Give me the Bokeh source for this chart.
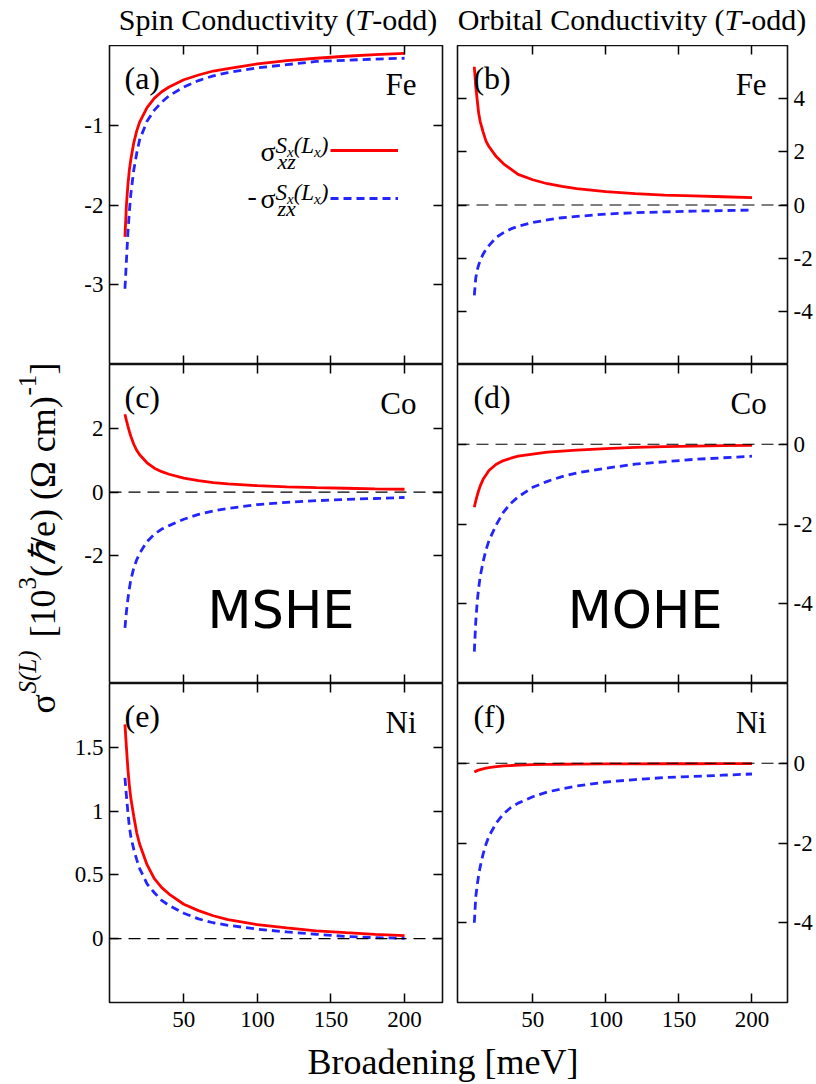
import math
from bokeh.plotting import figure
from bokeh.models import (Range1d, LinearAxis, FixedTicker, CustomJSTickFormatter,
                          Span, Label, Legend, LegendItem)
from bokeh.layouts import row, column
from bokeh.embed import file_html
from bokeh.resources import INLINE

# ---------------- data ----------------
broadening_meV = [10, 11, 12, 13, 14, 16, 18, 20, 25, 30, 35, 40, 50, 60, 70, 80,
                  100, 120, 140, 160, 180, 200]

fe_spin_xz = [-2.40, -2.00, -1.75, -1.56, -1.43, -1.22, -1.07, -0.96, -0.78, -0.66, -0.58,
              -0.52, -0.43, -0.37, -0.32, -0.29, -0.23, -0.19, -0.16, -0.135, -0.115, -0.10]
fe_spin_zx = [-3.05, -2.70, -2.35, -2.08, -1.86, -1.56, -1.35, -1.18, -0.95, -0.81, -0.71,
              -0.63, -0.52, -0.44, -0.38, -0.34, -0.28, -0.24, -0.20, -0.185, -0.17, -0.16]
fe_orb_xz = [5.20, 4.45, 3.95, 3.45, 3.15, 2.75, 2.40, 2.20, 1.82, 1.55, 1.35,
             1.15, 0.95, 0.80, 0.70, 0.62, 0.50, 0.43, 0.37, 0.34, 0.31, 0.28]
fe_orb_zx = [-3.40, -2.75, -2.45, -2.25, -2.10, -1.85, -1.67, -1.53, -1.22, -1.04, -0.90,
             -0.80, -0.66, -0.56, -0.48, -0.43, -0.34, -0.29, -0.26, -0.23, -0.21, -0.19]
co_spin_xz = [2.44, 2.25, 2.07, 1.90, 1.75, 1.50, 1.31, 1.17, 0.92, 0.75, 0.64,
              0.56, 0.44, 0.36, 0.30, 0.26, 0.20, 0.165, 0.14, 0.12, 0.10, 0.09]
co_spin_zx = [-4.26, -3.75, -3.35, -3.02, -2.75, -2.38, -2.12, -1.92, -1.55, -1.32, -1.16,
              -1.05, -0.85, -0.70, -0.59, -0.51, -0.39, -0.32, -0.27, -0.23, -0.20, -0.17]
co_orb_xz = [-1.58, -1.42, -1.28, -1.16, -1.05, -0.88, -0.77, -0.66, -0.50, -0.41, -0.35,
             -0.30, -0.25, -0.20, -0.17, -0.145, -0.11, -0.08, -0.06, -0.045, -0.035, -0.03]
co_orb_zx = [-5.20, -4.45, -3.95, -3.60, -3.32, -2.95, -2.65, -2.42, -2.02, -1.70, -1.48,
             -1.32, -1.08, -0.93, -0.81, -0.72, -0.60, -0.50, -0.44, -0.38, -0.34, -0.30]
ni_spin_xz = [1.68, 1.50, 1.33, 1.20, 1.10, 0.96, 0.83, 0.74, 0.58, 0.47, 0.40,
              0.35, 0.27, 0.22, 0.18, 0.15, 0.11, 0.085, 0.062, 0.047, 0.034, 0.024]
ni_spin_zx = [1.26, 1.12, 0.99, 0.88, 0.80, 0.70, 0.62, 0.55, 0.43, 0.36, 0.30,
              0.26, 0.20, 0.155, 0.125, 0.105, 0.075, 0.053, 0.035, 0.018, 0.008, 0.003]
ni_orb_xz = [-0.22, -0.20, -0.185, -0.17, -0.16, -0.14, -0.125, -0.11, -0.085, -0.068, -0.057,
             -0.048, -0.036, -0.030, -0.025, -0.022, -0.018, -0.015, -0.013, -0.012, -0.011, -0.010]
ni_orb_zx = [-4.00, -3.35, -3.05, -2.80, -2.60, -2.28, -2.03, -1.83, -1.50, -1.27, -1.11,
             -1.00, -0.84, -0.72, -0.64, -0.57, -0.47, -0.41, -0.36, -0.33, -0.30, -0.27]

x_ticks = [50, 100, 150, 200]
panel_tags = ["(a)", "(b)", "(c)", "(d)", "(e)", "(f)"]
elements = ["Fe", "Fe", "Co", "Co", "Ni", "Ni"]
effect_names = ["MSHE", "MOHE"]
title_pre = ["Spin Conductivity (", "Orbital Conductivity ("]
title_T = "T"
title_post = "-odd)"
x_label = "Broadening [meV]"

y_ranges = [(-4, 0), (-6, 6), (-6, 4), (-6, 2), (-0.5, 2), (-6, 2)]
y_ticks = [[-3, -2, -1], [-4, -2, 0, 2, 4], [-2, 0, 2], [-4, -2, 0], [0, 0.5, 1, 1.5], [-4, -2, 0]]
red_series = [fe_spin_xz, fe_orb_xz, co_spin_xz, co_orb_xz, ni_spin_xz, ni_orb_xz]
blue_series = [fe_spin_zx, fe_orb_zx, co_spin_zx, co_orb_zx, ni_spin_zx, ni_orb_zx]
zero_line = [False, True, True, True, True, True]

# ---------------- layout / style ----------------
SERIF = "Liberation Serif"
RED = "#ff0000"
BLUE = "#2424ff"
TOP_H = 45
YLAB_W = 64
FRAME_H = 319
COLS = [dict(bl=45, fw=333, br=7), dict(bl=8, fw=332, br=26)]
ROWS = [dict(bb=0), dict(bb=0), dict(bb=38)]
X_RANGES = [(-0.5, 225.8), (-1.5, 224.3)]
XLAB_H = 44
BASE_SHIFT = 0.34   # text anchor correction (em)

col_w = [c["bl"] + c["fw"] + c["br"] for c in COLS]
row_h = [FRAME_H + r["bb"] for r in ROWS]
TOTAL_W = YLAB_W + sum(col_w)
GRID_H = sum(row_h)


def frame_box(c, r):
    left = YLAB_W + (0 if c == 0 else col_w[0]) + COLS[c]["bl"]
    top = TOP_H + sum(row_h[:r])
    return left, top, left + COLS[c]["fw"], top + FRAME_H


def to_data(geom, px, py):
    fl, ft, fr, fb, x0, x1, y0, y1 = geom
    x = x0 + (px - fl) / (fr - fl) * (x1 - x0)
    y = y1 - (py - ft) / (fb - ft) * (y1 - y0)
    return x, y


def add_text(p, geom, px, py, text, size, style="normal", align="left",
             font=SERIF, vertical=False):
    if vertical:
        px = px - BASE_SHIFT * size
    else:
        py = py - BASE_SHIFT * size
    x, y = to_data(geom, px, py)
    p.add_layout(Label(x=x, y=y, text=text, text_font=font,
                       text_font_size=f"{size}px", text_font_style=style,
                       text_align=align, text_baseline="alphabetic",
                       text_color="black", angle=(math.pi / 2 if vertical else 0.0)))


def style_axis(ax, show, standoff):
    ax.axis_line_color = None
    ax.major_tick_in = 9
    ax.major_tick_out = 0
    ax.major_tick_line_width = 1.5
    ax.major_tick_line_color = "black"
    ax.minor_tick_line_color = None
    if show:
        ax.formatter = CustomJSTickFormatter(code="return String(tick)")
        ax.major_label_text_font = SERIF
        ax.major_label_text_font_size = "23px"
        ax.major_label_text_color = "black"
        ax.major_label_standoff = standoff
    else:
        ax.major_label_text_font_size = "0px"
        ax.major_label_text_color = None
        ax.major_label_standoff = 0


panels = []
for i in range(6):
    c, r = i % 2, i // 2
    cg, rg = COLS[c], ROWS[r]
    fl, ft, fr, fb = frame_box(c, r)
    geom = (fl, ft, fr, fb, X_RANGES[c][0], X_RANGES[c][1], y_ranges[i][0], y_ranges[i][1])
    p = figure(width=col_w[c], height=row_h[r],
               x_range=Range1d(*X_RANGES[c]), y_range=Range1d(*y_ranges[i]),
               x_axis_location=None, y_axis_location=None,
               toolbar_location=None, output_backend="svg",
               min_border_left=cg["bl"], min_border_right=cg["br"],
               min_border_top=0, min_border_bottom=rg["bb"],
               background_fill_color="white", border_fill_color="white",
               outline_line_color="#111111", outline_line_width=1.6)
    p.grid.visible = False
    for side in ("below", "above"):
        ax = LinearAxis(ticker=FixedTicker(ticks=x_ticks))
        style_axis(ax, side == "below" and r == 2, 9)
        p.add_layout(ax, side)
    for side in ("left", "right"):
        ax = LinearAxis(ticker=FixedTicker(ticks=y_ticks[i]))
        style_axis(ax, (side == "left") == (c == 0), 6)
        p.add_layout(ax, side)

    if zero_line[i]:
        p.add_layout(Span(location=0, dimension="width", line_color="black",
                          line_width=1.2, line_dash="12 7"))
    r_red = p.line(broadening_meV, red_series[i], line_color=RED, line_width=2.8)
    r_blue = p.line(broadening_meV, blue_series[i], line_color=BLUE, line_width=2.8,
                    line_dash="8 5")

    tag_x = fl + (15 if c == 0 else 16)
    elem_x = fr - (26 if c == 0 else 21)
    add_text(p, geom, tag_x, ft + 43, panel_tags[i], 32)
    add_text(p, geom, elem_x, ft + 50, elements[i], 31, align="right")

    if r == 1:
        add_text(p, geom, 207 if c == 0 else 568, 627, effect_names[c], 51,
                 font="DejaVu Sans")

    if i == 0:
        legend = Legend(items=[LegendItem(label=" ", renderers=[r_red]),
                               LegendItem(label=" ", renderers=[r_blue])],
                        location=(221, 156), glyph_width=68, glyph_height=20,
                        label_height=20, label_width=0, label_standoff=0,
                        padding=0, margin=0, spacing=28,
                        border_line_color=None, background_fill_alpha=0,
                        label_text_font_size="1px")
        p.add_layout(legend)
        for dy, sub, minus in ((0, "xz", False), (47, "zx", True)):
            if minus:
                add_text(p, geom, 247, 205, "-", 28)
            add_text(p, geom, 260, 161 + dy, "\u03c3", 28)
            add_text(p, geom, 275, 153 + dy, "S", 23, style="italic")
            add_text(p, geom, 286.5, 157 + dy, "x", 15, style="italic")
            add_text(p, geom, 293.2, 153 + dy, "(L", 23, style="italic")
            add_text(p, geom, 313.6, 157 + dy, "x", 15, style="italic")
            add_text(p, geom, 320.3, 153 + dy, ")", 23, style="italic")
            add_text(p, geom, 277, 168 + dy, sub, 22, style="italic")
    panels.append(p)


def blank(w, h):
    b = figure(width=w, height=h, x_range=Range1d(0, w), y_range=Range1d(0, h),
               x_axis_location=None, y_axis_location=None,
               toolbar_location=None, output_backend="svg",
               min_border=0, min_border_left=0, min_border_right=0,
               min_border_top=0, min_border_bottom=0,
               outline_line_color=None, background_fill_color="white",
               border_fill_color="white")
    b.grid.visible = False
    return b


# column titles strip
top = blank(TOTAL_W, TOP_H)
tgeom = (0, 0, TOTAL_W, TOP_H, 0, TOTAL_W, 0, TOP_H)
for c, t_pos in ((0, 355), (1, 724)):
    add_text(top, tgeom, t_pos, 29, title_pre[c], 30, align="right")
    add_text(top, tgeom, t_pos, 29, title_T, 30, style="italic")
    add_text(top, tgeom, t_pos + 16.7, 29, title_post, 30)

# y-axis label strip
ylab = blank(YLAB_W, GRID_H)
ygeom = (0, TOP_H, YLAB_W, TOP_H + GRID_H, 0, YLAB_W, 0, GRID_H)
ypieces = [("\u03c3", 36, "normal", 713, 55),
           ("S(L)", 25, "italic", 693, 35),
           ("[10", 36, "normal", 637, 55),
           ("3", 25, "normal", 589, 35),
           ("(", 36, "normal", 576.5, 55),
           ("\u210f", 36, "italic", 564.5, 55),
           ("/e) (\u03a9 cm)", 36, "normal", 546.5, 55),
           ("-1", 25, "normal", 395, 35),
           ("]", 36, "normal", 374, 55)]
for txt, sz, st, py, px in ypieces:
    add_text(ylab, ygeom, px, py, txt, sz, style=st, vertical=True)

# x-axis label strip
xlab = blank(TOTAL_W, XLAB_H)
xgeom = (0, TOP_H + GRID_H, TOTAL_W, TOP_H + GRID_H + XLAB_H, 0, TOTAL_W, 0, XLAB_H)
add_text(xlab, xgeom, 442.5, 1074, x_label, 36, align="center")

grid = column(row(panels[0], panels[1]), row(panels[2], panels[3]), row(panels[4], panels[5]))
layout = column(top, row(ylab, grid), xlab)

open("out.html", "w").write(file_html(layout, INLINE))
